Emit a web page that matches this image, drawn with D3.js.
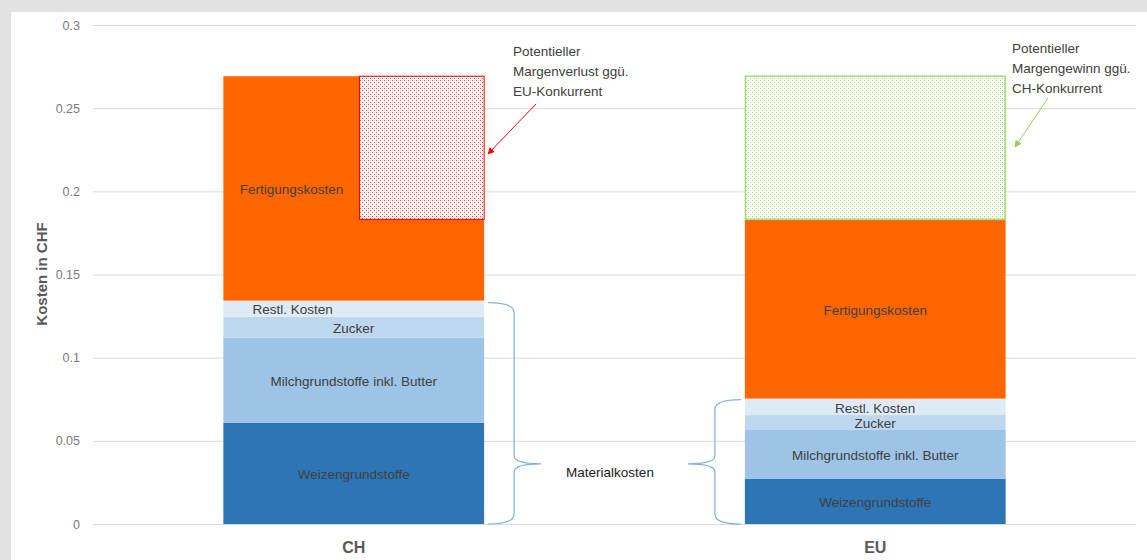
<!DOCTYPE html>
<html>
<head>
<meta charset="utf-8">
<script src="https://cdn.jsdelivr.net/npm/d3@7"></script>
<style>
  body { margin: 0; background: #e2e2e2; }
  svg { display: block; font-family: "Liberation Sans", Arial, sans-serif; }
</style>
</head>
<body>
<div id="viz"></div>
<script>
// data
const categories = ["CH", "EU"];
const segments = ["Weizengrundstoffe", "Milchgrundstoffe inkl. Butter", "Zucker", "Restl. Kosten", "Fertigungskosten"];
const chValues = [0.0609, 0.0511, 0.0126, 0.0097, 0.1349];
const euValues = [0.0272, 0.0293, 0.0090, 0.0099, 0.1077];
const yTicks = [0, 0.05, 0.1, 0.15, 0.2, 0.25, 0.3];
const braceTip = 0.0362;
const lossText = ["Potentieller", "Margenverlust ggü.", "EU-Konkurrent"];
const gainText = ["Potentieller", "Margengewinn ggü.", "CH-Konkurrent"];

const COLOR = {
  "Weizengrundstoffe": "#2e75b6",
  "Milchgrundstoffe inkl. Butter": "#9dc3e6",
  "Zucker": "#bdd7ee",
  "Restl. Kosten": "#deebf7",
  "Fertigungskosten": "#ff6600"
};

const W = 1147, H = 560;
const svg = d3.select("#viz").append("svg").attr("width", W).attr("height", H);

svg.append("rect").attr("x", 11).attr("y", 12).attr("width", W - 11).attr("height", H - 12).attr("fill", "#fff");

const defs = svg.append("defs");
function dots(id, c1, c2) {
  const p = defs.append("pattern").attr("id", id).attr("patternUnits", "userSpaceOnUse")
    .attr("width", 4).attr("height", 4);
  p.append("rect").attr("width", 4).attr("height", 4).attr("fill", "#fff");
  [[0, 0, c1], [2, 2, c1], [2, 0, c2], [0, 2, c2]].forEach(d => {
    p.append("rect").attr("x", d[0]).attr("y", d[1]).attr("width", 1).attr("height", 1).attr("fill", d[2]);
  });
}
dots("redDots", "#ff3b3b", "#ffd0d0");
dots("greenDots", "#a6da74", "#e2f2d2");

const marker = (id, col) => defs.append("marker").attr("id", id)
  .attr("viewBox", "0 0 10 10").attr("refX", 9).attr("refY", 5)
  .attr("markerWidth", 7).attr("markerHeight", 7).attr("orient", "auto")
  .append("path").attr("d", "M0,0 L10,5 L0,10 z").attr("fill", col);
marker("arrRed", "#ff0000");
marker("arrGreen", "#92d050");

const y = d3.scaleLinear().domain([0, 0.3]).range([524, 25]);
const x = d3.scaleBand().domain(categories).range([93, 1136]).paddingInner(0.5).paddingOuter(0.25);
const bw = x.bandwidth();

// grid + y axis
const yAxis = svg.append("g").attr("transform", "translate(93,0)")
  .call(d3.axisLeft(y).tickValues(yTicks).tickSize(-(1136 - 93)).tickPadding(13).tickFormat(d => d3.format("")(+d.toFixed(2))));
yAxis.select(".domain").remove();
yAxis.selectAll(".tick line").attr("stroke", "#d9d9d9");
yAxis.selectAll(".tick text").attr("fill", "#7a7a7a").style("font-size", "12.5px");

svg.append("text")
  .attr("transform", "translate(47,274) rotate(-90)")
  .attr("text-anchor", "middle")
  .attr("fill", "#595959").style("font-size", "15px").style("font-weight", "bold")
  .text("Kosten in CHF");

// stacked bars
const rows = categories.map((c, i) => {
  const vals = i === 0 ? chValues : euValues;
  const r = { cat: c };
  segments.forEach((s, j) => r[s] = vals[j]);
  return r;
});
const stacked = d3.stack().keys(segments)(rows);

const hatchFrac = 0.522;
const labelShift = { "CH|Restl. Kosten": -61 };

stacked.forEach(layer => {
  svg.append("g").selectAll("rect").data(layer).enter().append("rect")
    .attr("x", d => x(d.data.cat))
    .attr("y", d => y(d[1]))
    .attr("width", bw)
    .attr("height", d => y(d[0]) - y(d[1]))
    .attr("fill", COLOR[layer.key]);
});

const chTotal = d3.sum(chValues), euTotal = d3.sum(euValues);

// margin boxes
svg.append("rect")
  .attr("x", x("CH") + bw * hatchFrac).attr("y", y(chTotal))
  .attr("width", bw * (1 - hatchFrac)).attr("height", y(euTotal) - y(chTotal))
  .attr("fill", "url(#redDots)").attr("stroke", "#ff0000").attr("stroke-width", 1);

svg.append("rect")
  .attr("x", x("EU") + 0.5).attr("y", y(chTotal))
  .attr("width", bw - 1).attr("height", y(euTotal) - y(chTotal))
  .attr("fill", "url(#greenDots)").attr("stroke", "#a6da74").attr("stroke-width", 1.5);

// segment labels
stacked.forEach(layer => {
  svg.append("g").selectAll("text").data(layer).enter().append("text")
    .attr("x", d => {
      let cx = x(d.data.cat) + bw / 2;
      if (d.data.cat === "CH" && layer.key === "Fertigungskosten") cx = x("CH") + bw * hatchFrac / 2;
      return cx + (labelShift[d.data.cat + "|" + layer.key] || 0);
    })
    .attr("y", d => (y(d[0]) + y(d[1])) / 2 + 1)
    .attr("dy", "0.35em")
    .attr("text-anchor", "middle")
    .attr("fill", "#404040").style("font-size", "13.5px")
    .text(layer.key);
});

// x labels
svg.selectAll(".xl").data(categories).enter().append("text")
  .attr("x", d => x(d) + bw / 2).attr("y", 553)
  .attr("text-anchor", "middle")
  .attr("fill", "#595959").style("font-size", "16px").style("font-weight", "bold")
  .text(d => d);

// braces for Materialkosten
function brace(x0, dir, top, tip, bot) {
  const sp = x0 + dir * 26, tx = x0 + dir * 53;
  return `M${x0},${top} Q${sp},${top} ${sp},${top + 10} L${sp},${tip - 8} Q${sp},${tip} ${tx},${tip} ` +
    `Q${sp},${tip} ${sp},${tip + 8} L${sp},${bot - 10} Q${sp},${bot} ${x0},${bot}`;
}
const matCH = d3.sum(chValues.slice(0, 4)), matEU = d3.sum(euValues.slice(0, 4));
svg.append("path").attr("d", brace(x("CH") + bw + 4, 1, y(matCH) + 2, y(braceTip), y(0)))
  .attr("fill", "none").attr("stroke", "#7eb0e0").attr("stroke-width", 1.2);
svg.append("path").attr("d", brace(x("EU") - 4, -1, y(matEU) + 1, y(braceTip), y(0)))
  .attr("fill", "none").attr("stroke", "#7eb0e0").attr("stroke-width", 1.2);

svg.append("text").attr("x", 610).attr("y", y(braceTip) + 8).attr("dy", "0.35em")
  .attr("text-anchor", "middle").attr("fill", "#1a1a1a").style("font-size", "13.5px")
  .text("Materialkosten");

// annotations
function note(lines, x0, y0) {
  svg.append("g").selectAll("text").data(lines).enter().append("text")
    .attr("x", x0).attr("y", (d, i) => y0 + i * 20)
    .attr("fill", "#404040").style("font-size", "13.5px")
    .text(d => d);
}
note(lossText, 513, 56);
note(gainText, 1012, 53);

svg.append("line").attr("x1", 536).attr("y1", 104).attr("x2", 488).attr("y2", 154)
  .attr("stroke", "#ff0000").attr("stroke-width", 1).attr("marker-end", "url(#arrRed)");
svg.append("line").attr("x1", 1048).attr("y1", 98).attr("x2", 1015).attr("y2", 147)
  .attr("stroke", "#92d050").attr("stroke-width", 1).attr("marker-end", "url(#arrGreen)");
</script>
</body>
</html>
